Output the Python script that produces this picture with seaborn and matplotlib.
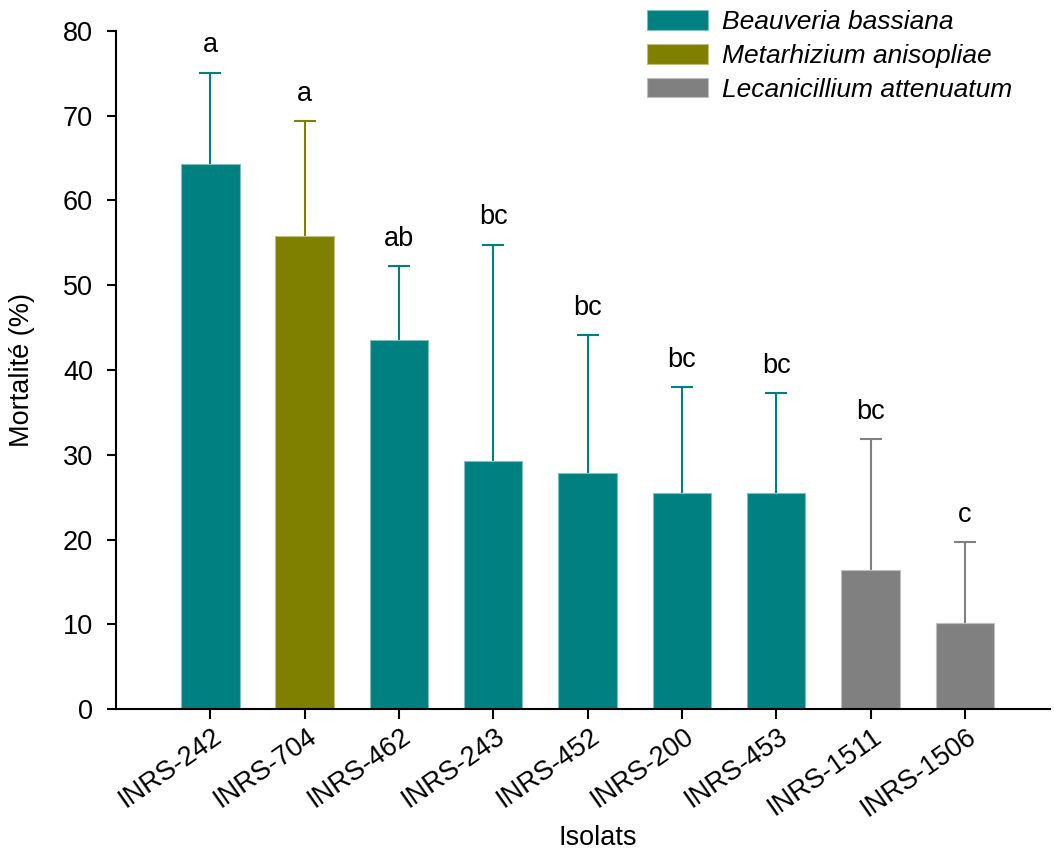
import numpy as np
import pandas as pd
import matplotlib
matplotlib.use("Agg")
import matplotlib.pyplot as plt
import matplotlib.transforms as mtransforms
from matplotlib.patches import Patch
import seaborn as sns

# Mortality per fungal isolate (mean and standard deviation, %)
isolats = ["INRS-242", "INRS-704", "INRS-462", "INRS-243", "INRS-452",
           "INRS-200", "INRS-453", "INRS-1511", "INRS-1506"]
especes = ["Beauveria bassiana", "Metarhizium anisopliae", "Beauveria bassiana",
           "Beauveria bassiana", "Beauveria bassiana", "Beauveria bassiana",
           "Beauveria bassiana", "Lecanicillium attenuatum", "Lecanicillium attenuatum"]
mortalite = [64.3, 55.8, 43.5, 29.3, 27.8, 25.5, 25.5, 16.4, 10.2]
ecart_type = [10.8, 13.6, 8.8, 25.5, 16.3, 12.5, 11.8, 15.5, 9.5]
lettres = ["a", "a", "ab", "bc", "bc", "bc", "bc", "bc", "c"]

legende_especes = ["Beauveria bassiana", "Metarhizium anisopliae", "Lecanicillium attenuatum"]
couleurs = {"Beauveria bassiana": "#008080",
            "Metarhizium anisopliae": "#808000",
            "Lecanicillium attenuatum": "#808080"}
bords = {"Beauveria bassiana": "#7fbfbf",
         "Metarhizium anisopliae": "#bfbf7f",
         "Lecanicillium attenuatum": "#bfbfbf"}

df = pd.DataFrame({"Isolats": isolats, "Espece": especes,
                   "Mortalite": mortalite, "SD": ecart_type, "Lettre": lettres})

sns.set_theme(style="ticks")
plt.rcParams["font.family"] = ["Liberation Sans", "DejaVu Sans"]
plt.rcParams.update({"text.color": "black", "axes.labelcolor": "black",
                     "xtick.color": "black", "ytick.color": "black"})

FS = 19.5

fig = plt.figure(figsize=(10.54, 8.51), dpi=100)
ax = fig.add_axes([0.110, 0.1668, 0.886, 0.7968])

sns.barplot(data=df, x="Isolats", y="Mortalite", hue="Espece", order=isolats,
            hue_order=legende_especes, palette=couleurs, dodge=False,
            width=0.62, errorbar=None, legend=False, saturation=1, ax=ax, zorder=2)

for patch in ax.patches:
    if patch.get_height() > 0:
        fc = matplotlib.colors.to_hex(patch.get_facecolor())
        for sp, c in couleurs.items():
            if c == fc:
                patch.set_edgecolor(bords[sp])
        patch.set_linewidth(0.8)

# upper-only error bars (drawn behind the bars) and significance letters
xpos = np.arange(len(isolats))
for i, row in df.iterrows():
    col = couleurs[row.Espece]
    eb = ax.errorbar(xpos[i], row.Mortalite, yerr=[[0], [row.SD]], fmt="none",
                     ecolor=col, elinewidth=1.5, capsize=8, capthick=1.5, zorder=1)
    eb[1][0].set_visible(False)  # no cap at the bar top
    ax.annotate(row.Lettre, (xpos[i], row.Mortalite + row.SD),
                xytext=(0, 14.5), textcoords="offset points",
                ha="center", va="baseline", fontsize=FS, color="black")

ax.set_xlim(-1.0, 8.9)
ax.set_ylim(0, 80)
ax.set_yticks(range(0, 81, 10))

for side in ["top", "right"]:
    ax.spines[side].set_visible(False)
for side in ["left", "bottom"]:
    ax.spines[side].set_linewidth(1.5)
    ax.spines[side].set_color("black")

ax.tick_params(axis="y", direction="out", length=6.5, width=1.5, labelsize=FS, pad=10)
ax.tick_params(axis="x", direction="out", length=7, width=1.5, labelsize=FS, pad=11)
shift = mtransforms.ScaledTranslation(0.09, 0, fig.dpi_scale_trans)
for lab in ax.get_xticklabels():
    lab.set_rotation(35)
    lab.set_ha("right")
    lab.set_va("center")
    lab.set_rotation_mode("anchor")
    lab.set_transform(lab.get_transform() + shift)

ax.set_xlabel("Isolats", fontsize=FS)
ax.xaxis.set_label_coords(0.516, -0.171)
ax.set_ylabel("Mortalité (%)", fontsize=FS)
ax.yaxis.set_label_coords(-0.087, 0.5)

handles = [Patch(facecolor=couleurs[s], edgecolor=bords[s], linewidth=0.8, label=s)
           for s in legende_especes]
fig.legend(handles=handles, loc="upper left", bbox_to_anchor=(0.6139, 0.988),
           frameon=False, borderpad=0, borderaxespad=0,
           handlelength=2.32, handleheight=0.76, handletextpad=0.53,
           labelspacing=0.37, prop={"style": "italic", "size": 19})

fig.savefig("out.png", dpi=100)
